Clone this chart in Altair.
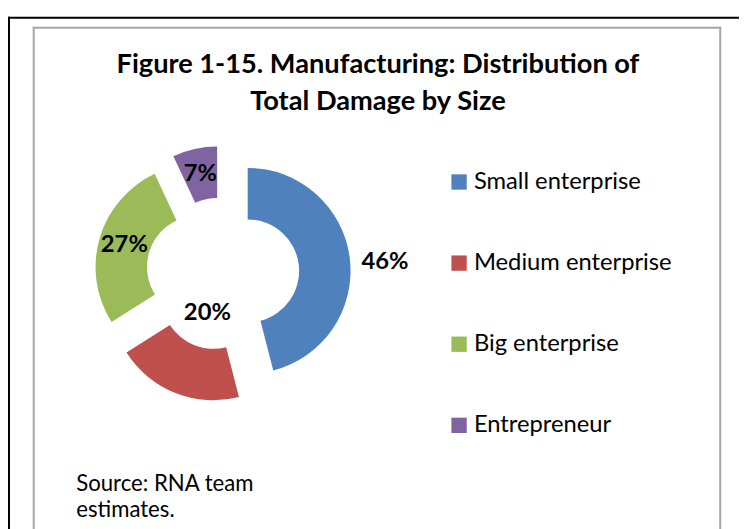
import altair as alt
import pandas as pd

# ---- data ----
categories = ["Small enterprise", "Medium enterprise", "Big enterprise", "Entrepreneur"]
shares = [46, 20, 27, 7]
pct_labels = ["46%", "20%", "27%", "7%"]
label_place = ["outside", "inner", "center", "center"]
colors = ["#4F81BD", "#C0504D", "#9BBB59", "#8064A2"]

title_lines = ["Figure 1-15. Manufacturing: Distribution of", "Total Damage by Size"]
source_lines = ["Source: RNA team", "estimates."]

# ---- layout parameters ----
W, H = 739, 529
CX, CY = 217, 266          # pie centre (px)
R_OUT, R_IN = 104, 52      # outer / inner radius
EXPLODE = 25.5             # explosion distance
FONT = "Lato"

df = pd.DataFrame({
    "category": categories,
    "share": shares,
    "label": pct_labels,
    "place": label_place,
    "order": list(range(len(categories))),
})

base = (
    alt.Chart(df)
    .transform_window(cum="sum(share)", sort=[alt.SortField("order")])
    .transform_joinaggregate(total="sum(share)")
    .transform_calculate(
        t0="2*PI*(datum.cum - datum.share)/datum.total",
        t1="2*PI*datum.cum/datum.total",
    )
    .transform_calculate(mid="(datum.t0 + datum.t1)/2")
    .transform_calculate(
        cx=f"{CX} + {EXPLODE}*sin(datum.mid)",
        cy=f"{CY} - {EXPLODE}*cos(datum.mid)",
        lr=(f"datum.place == 'outside' ? {R_OUT + EXPLODE + 35} : "
            f"datum.place == 'inner' ? {R_IN - 10} : {(R_OUT + R_IN) / 2 + EXPLODE}"),
        la=("datum.place == 'outside' ? datum.mid + 0.055 : datum.mid"),
    )
)

arcs = base.mark_arc(radius=R_OUT, radius2=R_IN).encode(
    theta=alt.Theta("t0:Q", scale=None, stack=False),
    theta2=alt.Theta2("t1:Q"),
    x=alt.X("cx:Q", scale=None, axis=None),
    y=alt.Y("cy:Q", scale=None, axis=None),
    color=alt.Color(
        "category:N",
        scale=alt.Scale(domain=categories, range=colors),
        sort=categories,
        legend=alt.Legend(
            title=None,
            orient="none",
            legendX=444,
            legendY=161,
            symbolType="square",
            symbolSize=240,
            symbolStrokeWidth=0,
            labelFont=FONT,
            labelFontSize=24,
            labelColor="#000000",
            labelOffset=3,
            labelLimit=0,
            rowPadding=58,
            padding=0,
        ),
    ),
)

labels = base.mark_text(font=FONT, fontSize=24, fontWeight="bold", color="#000000",
                        align="center", baseline="middle").encode(
    theta=alt.Theta("la:Q", scale=None, stack=False),
    radius=alt.Radius("lr:Q", scale=None),
    x=alt.value(CX),
    y=alt.value(CY),
    text="label:N",
)

one = alt.Data(values=[{}])

title = alt.Chart(one).mark_text(
    text=title_lines, font=FONT, fontSize=27.5, fontWeight="bold", color="#000000",
    align="center", baseline="alphabetic", lineHeight=37,
).encode(x=alt.value(374), y=alt.value(63))

source = alt.Chart(one).mark_text(
    text=source_lines, font=FONT, fontSize=22.4, color="#000000",
    align="left", baseline="alphabetic", lineHeight=27,
).encode(x=alt.value(69), y=alt.value(485))

frame_black = [
    alt.Chart(one).mark_rule(color="#000000", strokeWidth=2).encode(
        x=alt.value(0), x2=alt.value(W), y=alt.value(7)),
    alt.Chart(one).mark_rule(color="#000000", strokeWidth=2).encode(
        x=alt.value(1), y=alt.value(6), y2=alt.value(H)),
]
frame_gray = [
    alt.Chart(one).mark_rule(color="#A6A6A6", strokeWidth=2).encode(
        x=alt.value(25), x2=alt.value(721), y=alt.value(17)),
    alt.Chart(one).mark_rule(color="#A6A6A6", strokeWidth=2).encode(
        x=alt.value(26), y=alt.value(16), y2=alt.value(H)),
    alt.Chart(one).mark_rule(color="#A6A6A6", strokeWidth=2).encode(
        x=alt.value(720), y=alt.value(16), y2=alt.value(H)),
]

chart = alt.layer(
    *frame_black, *frame_gray, arcs, labels, title, source
).properties(
    width=W, height=H, autosize=alt.AutoSizeParams(type="none"), padding=0,
    background="#FFFFFF",
).configure_view(stroke=None)

chart.save("out.html", embed_options={"renderer": "svg", "actions": False})
